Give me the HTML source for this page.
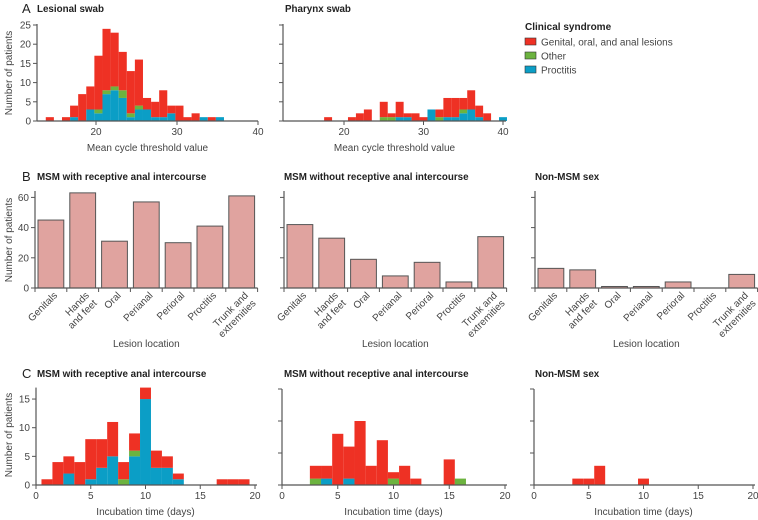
<!DOCTYPE html>
<html><head><meta charset="utf-8"><style>
html,body{margin:0;padding:0;background:#fff}
svg{display:block;font-family:"Liberation Sans",sans-serif}
</style></head><body>
<svg id="chart" width="758" height="520" viewBox="0 0 758 520"></svg>
<script>
// ---- Panel A data (bins of width 1) ----
const lesBinStart = [13.8,14.8,15.8,16.8,17.8,18.8,19.8,20.8,21.8,22.8,23.8,24.8,25.8,26.8,27.8,28.8,29.8,30.8,31.8,32.8,33.8,34.8];
const lesProctitis = [0,0,0,1,0,3,2,7,8,6,1,3,3,1,1,2,0,0,0,1,0,1];
const lesOther     = [0,0,0,0,0,0,1,1,1,2,1,1,0,0,0,0,0,0,0,0,0,0];
const lesGenital   = [1,0,1,3,7,6,14,16,14,10,11,12,3,4,7,2,4,1,2,0,1,0];
const phaBinStart = [17.5,18.5,19.5,20.5,21.5,22.5,23.5,24.5,25.5,26.5,27.5,28.5,29.5,30.5,31.5,32.5,33.5,34.5,35.5,36.5,37.5,38.5,39.5];
const phaProctitis = [0,0,0,0,0,0,0,0,0,1,1,0,0,3,0,1,1,2,3,1,0,0,1];
const phaOther     = [0,0,0,0,0,0,0,1,1,0,0,0,0,0,1,0,0,1,0,0,0,0,0];
const phaGenital   = [1,0,0,1,2,3,0,4,1,4,1,2,1,0,2,5,5,3,5,3,2,0,0];
const ctTicks = [20,30,40];
const countTicksA = [0,5,10,15,20,25];
// ---- Panel B data ----
const lesionLocations = [["Genitals"],["Hands","and feet"],["Oral"],["Perianal"],["Perioral"],["Proctitis"],["Trunk and","extremities"]];
const bRecept = [45,63,31,57,30,41,61];
const bNoRecept = [42,33,19,8,17,4,34];
const bNonMsm = [13,12,1,1,4,0,9];
const countTicksB = [0,20,40,60];
// ---- Panel C data (day bins) ----
const incDays = [1,2,3,4,5,6,7,8,9,10,11,12,13,14,15,16,17,18,19];
const cRecProctitis = [0,0,2,0,1,3,5,0,5,15,3,3,1,0,0,0,0,0,0];
const cRecOther     = [0,0,0,0,0,0,0,1,1,0,0,0,0,0,0,0,0,0,0];
const cRecGenital   = [1,4,3,4,7,5,6,3,3,2,3,2,1,0,0,0,1,1,1];
const cNoProctitis = [0,0,0,1,0,1,0,0,0,0,0,0,0,0,0,0,0,0,0];
const cNoOther     = [0,0,1,0,0,0,0,0,0,1,0,0,0,0,0,1,0,0,0];
const cNoGenital   = [0,0,2,2,8,5,10,3,7,1,3,1,0,0,4,0,0,0,0];
const cNonProctitis = [0,0,0,0,0,0,0,0,0,0,0,0,0,0,0,0,0,0,0];
const cNonOther     = [0,0,0,0,0,0,0,0,0,0,0,0,0,0,0,0,0,0,0];
const cNonGenital   = [0,0,0,1,1,3,0,0,0,1,0,0,0,0,0,0,0,0,0];
const dayTicks = [0,5,10,15,20];
const countTicksC = [0,5,10,15];

const NS="http://www.w3.org/2000/svg";
const svg=document.getElementById('chart');
const RED="#ee3124",GREEN="#6cb33f",BLUE="#0b9ec6",AX="#555";
function mk(tag,attrs,parent){const e=document.createElementNS(NS,tag);for(const k in attrs)e.setAttribute(k,attrs[k]);(parent||svg).appendChild(e);return e;}
function txt(s,x,y,size,opts,parent){opts=opts||{};const t=mk('text',{x:x,y:y,'font-size':size,fill:opts.fill||'#333','text-anchor':opts.anchor||'start','font-weight':opts.bold?'bold':'normal'},parent);if(opts.rot)t.setAttribute('transform','rotate('+opts.rot+' '+x+' '+y+')');t.textContent=s;return t;}

function axes(g,x0,x1,yb,yt,xs,ys,xticks,yticks,showX,showY){
  mk('line',{x1:x0,y1:yb,x2:x1,y2:yb,stroke:AX,'stroke-width':1.2},g);
  mk('line',{x1:x0,y1:yb,x2:x0,y2:yt,stroke:AX,'stroke-width':1.2},g);
  xticks.forEach(v=>{const x=xs(v);mk('line',{x1:x,y1:yb,x2:x,y2:yb+4,stroke:AX},g);if(showX)txt(String(v),x,yb+14,10,{anchor:'middle',fill:'#444'},g);});
  yticks.forEach(v=>{const y=ys(v);mk('line',{x1:x0-4,y1:y,x2:x0,y2:y,stroke:AX},g);if(showY)txt(String(v),x0-6,y+3.5,10,{anchor:'end',fill:'#444'},g);});
}
function stacked(g,starts,w,series,xs,ys,name){
  starts.forEach((s,i)=>{let base=0;series.forEach(([arr,col])=>{const v=arr[i];if(v>0){const r=mk('rect',{x:xs(s),y:ys(base+v),width:xs(s+w)-xs(s),height:ys(base)-ys(base+v),fill:col},g);
    
    }base+=v;});});
}
// ---- Panel A ----
function panelA(x20,ppu,x0,x1,starts,p,o,gg,name,showY){
  const g=mk('g',{});
  
  
  const xs=v=>x20+(v-20)*ppu, ys=c=>121-c*3.84;
  stacked(g,starts,1,[[p,BLUE],[o,GREEN],[gg,RED]],xs,ys,name);
  axes(g,x0,x1,121,24,xs,ys,ctTicks,countTicksA,true,showY);
  txt('Mean cycle threshold value',(x0+x1)/2,151,10,{anchor:'middle',fill:'#444'},g);
}
panelA(96,8.1,37,258,lesBinStart,lesProctitis,lesOther,lesGenital,'lesional-swab-histogram',true);
panelA(344,7.95,283,506,phaBinStart,phaProctitis,phaOther,phaGenital,'pharynx-swab-histogram',false);
// ---- Panel B ----
function panelB(x0,vals,name,showY){
  const g=mk('g',{});
  
  
  const slot=31.8, ys=c=>288-c*1.51;
  vals.forEach((v,i)=>{const r=mk('rect',{x:x0+i*slot+3,y:ys(v),width:slot-6,height:ys(0)-ys(v),fill:'#e0a39f',stroke:'#555','stroke-width':1},g);
    
    });
  const x1=x0+7*slot;
  mk('line',{x1:x0,y1:288,x2:x1,y2:288,stroke:AX,'stroke-width':1.2},g);
  mk('line',{x1:x0,y1:288,x2:x0,y2:191,stroke:AX,'stroke-width':1.2},g);
  for(let i=0;i<=7;i++)mk('line',{x1:x0+i*slot,y1:288,x2:x0+i*slot,y2:292,stroke:AX},g);
  countTicksB.forEach(v=>{mk('line',{x1:x0-4,y1:ys(v),x2:x0,y2:ys(v),stroke:AX},g);if(showY)txt(String(v),x0-6,ys(v)+3.5,10,{anchor:'end',fill:'#444'},g);});
  lesionLocations.forEach((lab,i)=>{const cx=x0+i*slot+slot/2+7, cy=296;
    const t=mk('text',{x:cx,y:cy,'font-size':10,fill:'#444','text-anchor':'end',transform:'rotate(-45 '+cx+' '+cy+')'},g);
    lab.forEach((l,j)=>{const ts=mk('tspan',{x:cx,dy:j?'1.1em':'0'},t);ts.textContent=l;});});
  txt('Lesion location',(x0+x1)/2,347,10,{anchor:'middle',fill:'#444'},g);
}
panelB(35,bRecept,'receptive-bar-chart',true);
panelB(284,bNoRecept,'non-receptive-bar-chart',false);
panelB(535,bNonMsm,'non-msm-bar-chart',false);
// ---- Panel C ----
function panelC(x0,x1,yTopVal,pxPer,p,o,gg,name,showY){
  const g=mk('g',{});
  
  
  const xs=v=>x0+v*(x1-x0)/20, ys=c=>485-c*pxPer;
  stacked(g,incDays.map(d=>d-0.5),1,[[p,BLUE],[o,GREEN],[gg,RED]],xs,ys,name);
  axes(g,x0,x1+2,485,ys(yTopVal),xs,ys,dayTicks,countTicksC,true,showY);
  txt('Incubation time (days)',(x0+x1)/2,515,10,{anchor:'middle',fill:'#444'},g);
}
panelC(36,255,17,5.73,cRecProctitis,cRecOther,cRecGenital,'receptive-incubation-histogram',true);
panelC(282,505,15,6.4,cNoProctitis,cNoOther,cNoGenital,'non-receptive-incubation-histogram',false);
panelC(534,753,15,6.4,cNonProctitis,cNonOther,cNonGenital,'non-msm-incubation-histogram',false);
// ---- Titles ----
[['A',22,13,'panel-a-label'],['B',22,181,'panel-b-label'],['C',22,378,'panel-c-label']].forEach(a=>{const t=txt(a[0],a[1],a[2],13,{fill:'#222'});});
[['Lesional swab',37,12],['Pharynx swab',285,12],['MSM with receptive anal intercourse',37,180],['MSM without receptive anal intercourse',284,180],['Non-MSM sex',535,180],['MSM with receptive anal intercourse',37,377],['MSM without receptive anal intercourse',284,377],['Non-MSM sex',535,377]].forEach(a=>{const t=txt(a[0],a[1],a[2],9.8,{bold:true,fill:'#222'});
  
  });
[73,240,435].forEach(cy=>{const t=txt('Number of patients',12,cy,10,{anchor:'middle',rot:-90,fill:'#444'});
  
  });
// ---- Legend ----
const lg=mk('g',{});


txt('Clinical syndrome',525,30,10,{bold:true,fill:'#222'},lg);
[['Genital, oral, and anal lesions',RED],['Other',GREEN],['Proctitis',BLUE]].forEach((e,i)=>{const y=38+i*14;
  const r=mk('rect',{x:525,y:y,width:11,height:7,fill:e[1],stroke:'#333','stroke-width':0.6},lg);
  
  
  const t=txt(e[0],541,y+7.5,10,{fill:'#444'},lg);
  
  });
</script>
</body></html>
